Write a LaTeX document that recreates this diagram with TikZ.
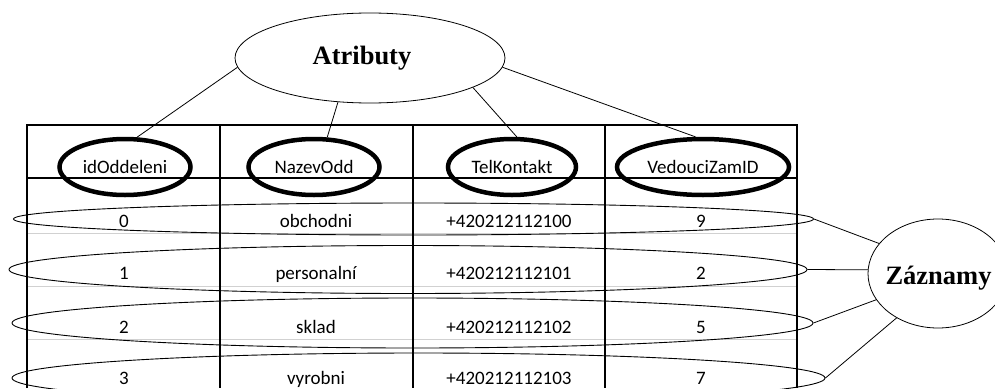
\documentclass[tikz,border=0pt]{standalone}
\usepackage{fontspec}
\setmainfont{Liberation Serif}
\newfontfamily\cellfont{Carlito}
\usetikzlibrary{shapes.geometric}
\begin{document}
\begin{tikzpicture}[x=1pt,y=-1pt,
  titleell/.style={ellipse,draw,line width=0.8pt,inner sep=0pt},
  titletext/.style={font=\bfseries\fontsize{26.5}{28}\selectfont,anchor=base,inner sep=0pt},
  head/.style={ellipse,draw,line width=4.5pt,inner sep=0pt,minimum height=56pt,
    font=\cellfont\fontsize{19}{22}\selectfont,text height=12pt,text depth=0pt},
  cell/.style={font=\cellfont\fontsize{19}{22}\selectfont,anchor=base,inner sep=0pt},
  rowell/.style={ellipse,draw,line width=0.9pt,inner sep=0pt},
  link/.style={line width=0.8pt},
  gridline/.style={line width=1.2pt},
  border/.style={line width=2pt},
  rowsep/.style={draw=black!18,line width=1pt}
]
\useasboundingbox (0,0) rectangle (995,388);

% table
\draw[rowsep] (27,233) -- (797,233);
\draw[rowsep] (27,286) -- (797,286);
\draw[rowsep] (27,339) -- (797,339);
\draw[gridline] (220,125) -- (220,388);
\draw[gridline] (413,125) -- (413,388);
\draw[gridline] (605,125) -- (605,388);
\draw[border] (27,388) -- (27,125) -- (797,125) -- (797,388);
\draw[border] (27,178) -- (797,178);

% data cells
\node[cell] (c00) at (124,227) {0};
\node[cell] (c01) at (316,227) {obchodni};
\node[cell] (c02) at (509,227) {+420212112100};
\node[cell] (c03) at (701,227) {9};
\node[cell] (c10) at (124,279) {1};
\node[cell] (c11) at (316,279) {personalní};
\node[cell] (c12) at (509,279) {+420212112101};
\node[cell] (c13) at (701,279) {2};
\node[cell] (c20) at (124,333) {2};
\node[cell] (c21) at (316,333) {sklad};
\node[cell] (c22) at (509,333) {+420212112102};
\node[cell] (c23) at (701,333) {5};
\node[cell] (c30) at (124,384) {3};
\node[cell] (c31) at (316,384) {vyrobni};
\node[cell] (c32) at (509,384) {+420212112103};
\node[cell] (c33) at (701,384) {7};

% header ellipses
\node[head,minimum width=131pt] (h1) at (125,167) {idOddeleni};
\node[head,minimum width=131pt] (h2) at (314,167) {NazevOdd};
\node[head,minimum width=128pt] (h3) at (512,167) {TelKontakt};
\node[head,minimum width=172pt] (h4) at (703,167) {VedouciZamID};

% row ellipses
\node[rowell,minimum width=800pt,minimum height=32pt] (r0) at (413.5,219) {};
\node[rowell,minimum width=798pt,minimum height=48pt] (r1) at (408,269.5) {};
\node[rowell,minimum width=801pt,minimum height=50pt] (r2) at (412.5,323) {};
\node[rowell,minimum width=813pt,minimum height=50pt] (r3) at (418.5,378) {};

% Atributy
\node[titleell,minimum width=270pt,minimum height=90pt] (atr) at (370,58) {};
\node[titletext] (atrt) at (362,64) {Atributy};

% Zaznamy
\node[titleell,minimum width=140pt,minimum height=109pt] (zaz) at (938,273.5) {};
\node[titletext] (zazt) at (938.5,284) {Záznamy};

% connectors
\draw[link] (atr.184) -- (h1.68);
\draw[link] (atr.234) -- (h2.66);
\draw[link] (atr.344) -- (h3.81);
\draw[link] (atr.356) -- (h4.104);

\draw[link] (r0.east) -- (zaz.153);
\draw[link] (r1.east) -- (zaz.177);
\draw[link] (r2.east) -- (zaz.203);
\draw[link] (r3.east) -- (zaz.227);
\end{tikzpicture}
\end{document}
